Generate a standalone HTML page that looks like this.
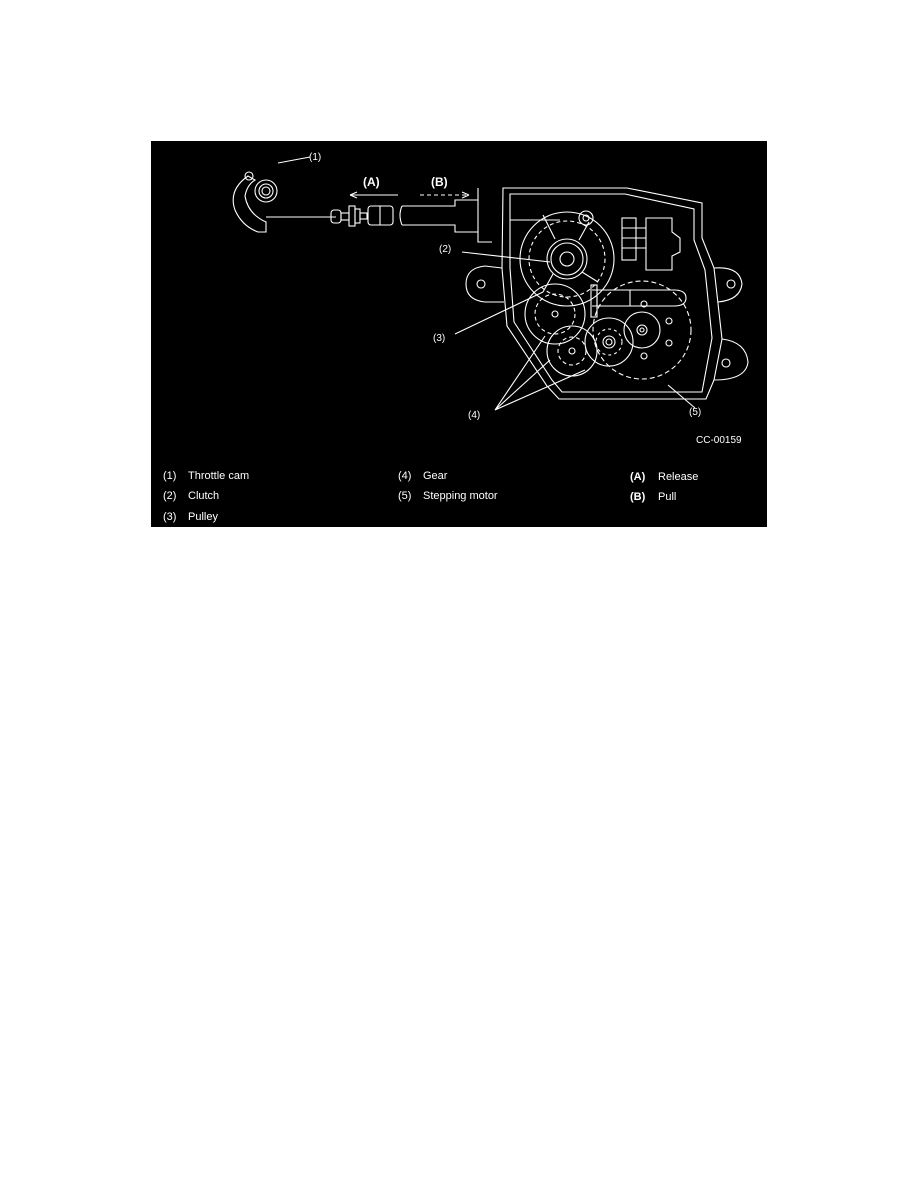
<!DOCTYPE html>
<html><head><style>
html,body{margin:0;padding:0;background:#fff;width:918px;height:1188px;overflow:hidden}
svg{position:absolute;left:0;top:0}
text{font-family:"Liberation Sans",Arial,sans-serif;fill:#fff}
</style></head><body>
<svg width="918" height="1188" viewBox="0 0 918 1188">
<rect x="151" y="141" width="616" height="386" fill="#000"/>
<g stroke="#fff" fill="none" stroke-width="1.1">
<!-- throttle cam -->
<path d="M248 176 Q228 190 235 210 Q242 226 258 232 L266 232 L266 222 Q248 214 245 196 Q247 185 255 180 Z"/>
<circle cx="266" cy="191" r="11"/><circle cx="266" cy="191" r="7"/><circle cx="266" cy="191" r="4"/>
<circle cx="249" cy="176" r="4"/>
<path d="M266 217 L336 217"/>
<path d="M278 163 L310 157"/>
<!-- cable end fitting -->
<rect x="331" y="210" width="10" height="13" rx="3"/>
<rect x="341" y="213" width="8" height="7"/>
<rect x="349" y="206" width="6" height="20"/>
<rect x="355" y="209" width="5" height="14"/>
<rect x="360" y="213" width="7" height="6"/>
<rect x="368" y="206" width="25" height="19" rx="3"/>
<path d="M380 206 L380 225"/>
<path d="M402 206 L455 206 L455 200 L478 200 M402 225 L455 225 L455 232 L478 232"/>
<path d="M402 206 Q398 215 402 225"/>
<path d="M478 188 L478 242 L492 242"/>
<!-- arrows -->
<path d="M350 195 L398 195"/><path d="M350 195 L357 192 M350 195 L357 198"/>
<path d="M420 195 L469 195" stroke-dasharray="4,3"/><path d="M469 195 L462 192 M469 195 L462 198"/>
<!-- housing -->
<path d="M503 188 L627 188 L702 203 L702 238 L714 268 L722 339 L714 380 L706 399 L559 399 L547 386 L507 326 L502 268 L503 188 Z"/>
<path d="M510 194 L625 194 L694 209 L694 240 L705 270 L712 338 L702 392 L562 392 L552 380 L514 322 L510 268 Z"/>
<path d="M502 268 L485 266 Q466 268 466 284 Q466 300 485 302 L504 302"/>
<circle cx="481" cy="284" r="4"/>
<path d="M714 268 Q740 266 742 284 Q740 300 718 302"/>
<circle cx="731" cy="284" r="4"/>
<path d="M722 339 Q746 342 748 362 Q746 380 714 380"/>
<circle cx="726" cy="363" r="4"/>
<!-- connector -->
<rect x="622" y="218" width="14" height="42"/>
<path d="M622 228 L646 228 M622 238 L646 238 M622 248 L646 248"/>
<path d="M646 218 L672 218 L672 232 L680 238 L680 252 L672 256 L672 270 L646 270 Z"/>
<!-- clutch -->
<circle cx="567" cy="259" r="47"/>
<circle cx="567" cy="259" r="38" stroke-dasharray="4,3"/>
<circle cx="567" cy="259" r="20"/><circle cx="567" cy="259" r="16"/><circle cx="567" cy="259" r="7"/>
<circle cx="586" cy="218" r="7"/><circle cx="586" cy="218" r="3"/>
<path d="M555 239 L543 215 M579 240 L589 222 M582 272 L598 282 M553 274 L543 292"/>
<path d="M510 220 L560 220"/>
<!-- slot -->
<path d="M592 290 L674 290 Q686 290 686 298 Q686 306 674 306 L592 306"/>
<rect x="591" y="285" width="6" height="32"/>
<path d="M597 290 L597 306 M630 290 L630 306"/>
<!-- gears -->
<circle cx="555" cy="314" r="30"/>
<circle cx="555" cy="314" r="20" stroke-dasharray="4,3"/>
<circle cx="555" cy="314" r="3"/>
<circle cx="572" cy="351" r="25"/>
<circle cx="572" cy="351" r="14" stroke-dasharray="4,3"/>
<circle cx="572" cy="351" r="3"/>
<circle cx="609" cy="342" r="24"/>
<circle cx="609" cy="342" r="13" stroke-dasharray="3,3"/>
<circle cx="609" cy="342" r="3"/><circle cx="609" cy="342" r="6"/>
<circle cx="642" cy="330" r="49" stroke-dasharray="5,3"/>
<circle cx="642" cy="330" r="18"/>
<circle cx="642" cy="330" r="5"/><circle cx="642" cy="330" r="2"/>
<circle cx="644" cy="304" r="3"/><circle cx="669" cy="321" r="3"/><circle cx="669" cy="343" r="3"/><circle cx="644" cy="356" r="3"/>
<!-- leaders -->
<path d="M462 252 L550 262"/>
<path d="M455 334 L543 292"/>
<path d="M495 410 L545 336 M495 410 L550 360 M495 410 L585 370"/>
<path d="M695 408 L668 385"/>
</g>
<g font-size="10">
<text x="309" y="160">(1)</text>
<text x="439" y="252">(2)</text>
<text x="433" y="341">(3)</text>
<text x="468" y="418">(4)</text>
<text x="689" y="415">(5)</text>
<text x="696" y="443">CC-00159</text>
</g>
<g font-size="12" font-weight="bold">
<text x="363" y="186">(A)</text>
<text x="431" y="186">(B)</text>
</g>
<g font-size="11">
<text x="163" y="479">(1)</text><text x="188" y="479">Throttle cam</text>
<text x="163" y="499">(2)</text><text x="188" y="499">Clutch</text>
<text x="163" y="520">(3)</text><text x="188" y="520">Pulley</text>
<text x="398" y="479">(4)</text><text x="423" y="479">Gear</text>
<text x="398" y="499">(5)</text><text x="423" y="499">Stepping motor</text>
<text x="630" y="480" font-weight="bold">(A)</text><text x="658" y="480">Release</text>
<text x="630" y="500" font-weight="bold">(B)</text><text x="658" y="500">Pull</text>
</g>
</svg>
</body></html>
